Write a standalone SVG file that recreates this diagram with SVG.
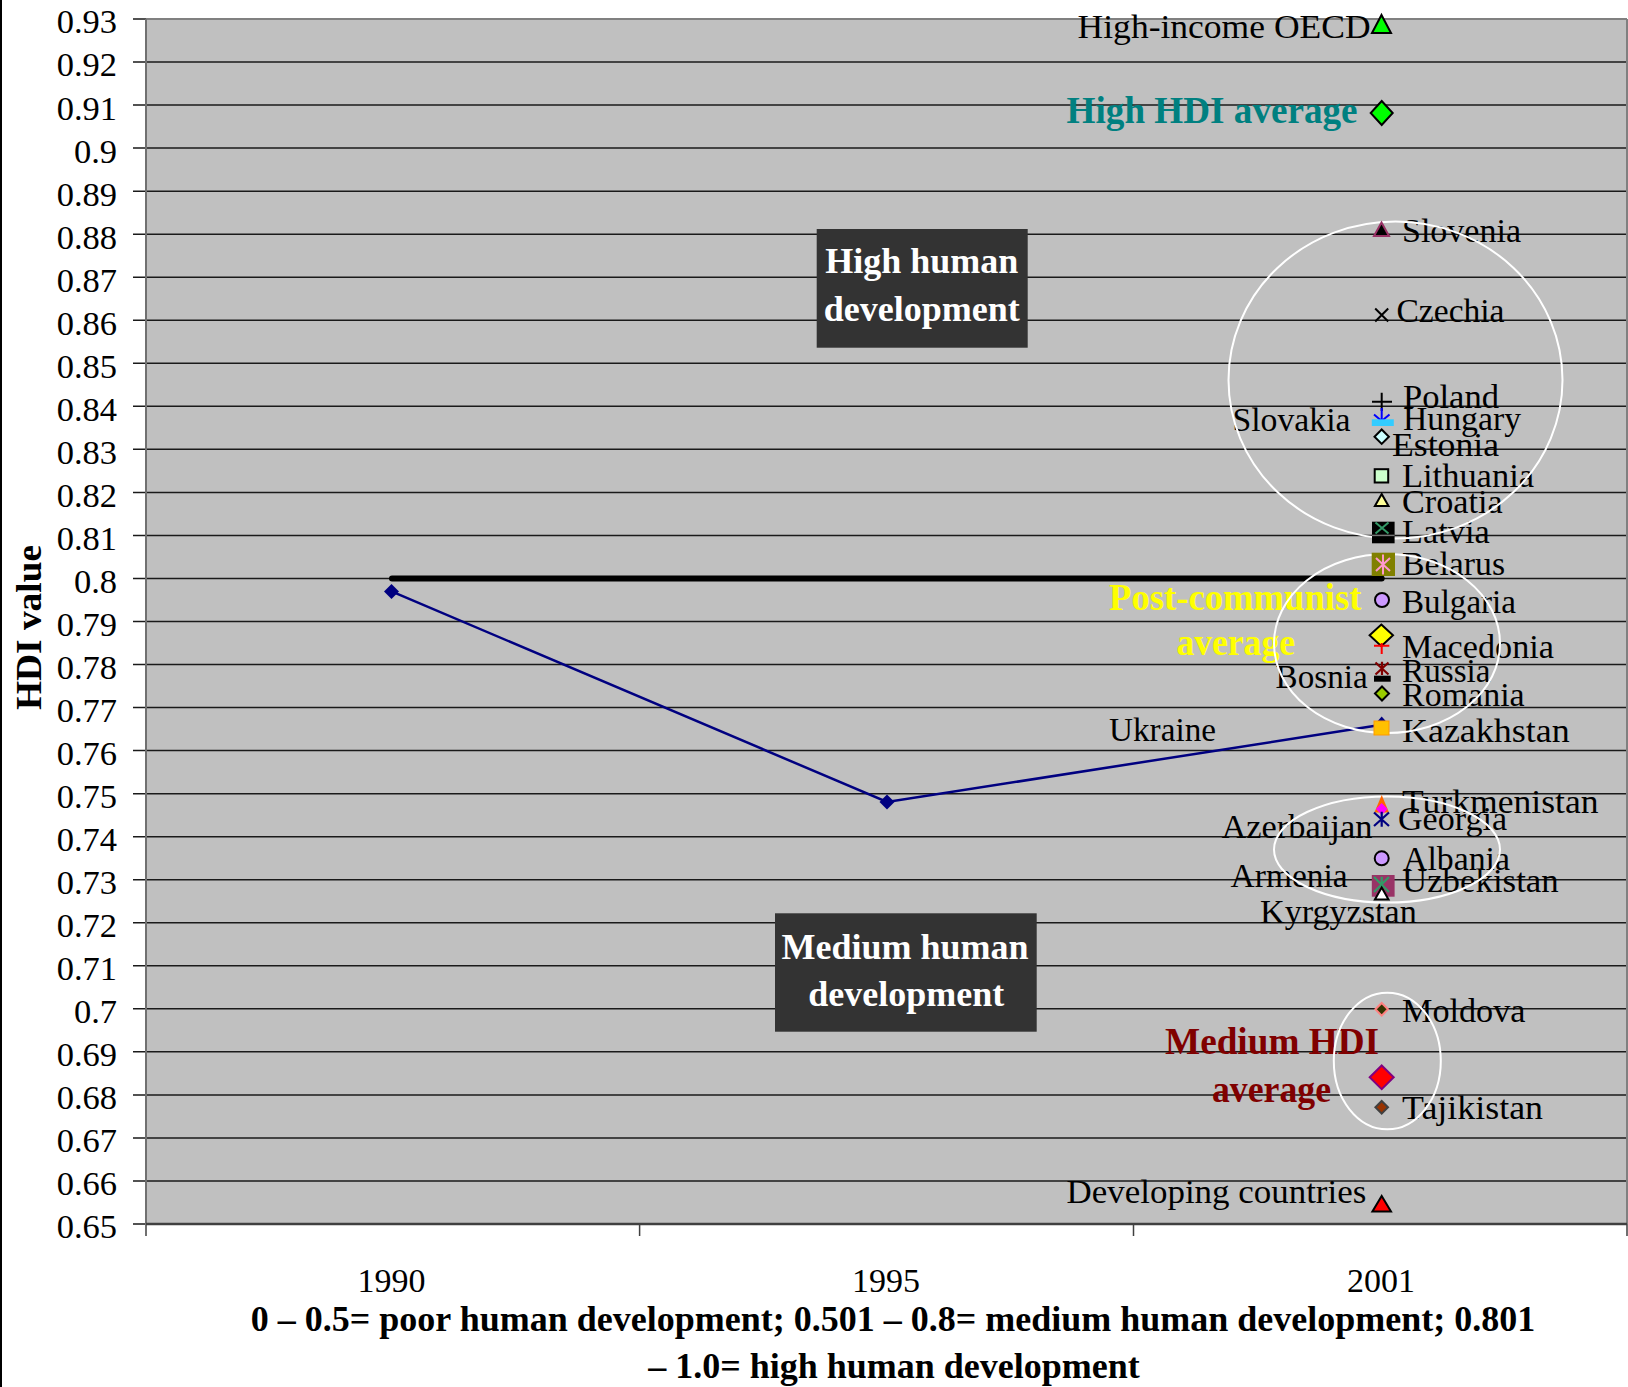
<svg xmlns="http://www.w3.org/2000/svg" width="1628" height="1387" viewBox="0 0 1628 1387">
<style>
.lbl{font-family:"Liberation Serif","Times New Roman",serif;font-size:34px;fill:#000}
.ax{font-family:"Liberation Serif","Times New Roman",serif;font-size:34.5px;fill:#000;text-anchor:end}
.xl{font-family:"Liberation Serif","Times New Roman",serif;font-size:34px;fill:#000;text-anchor:middle}
.b{font-family:"Liberation Serif","Times New Roman",serif;font-weight:bold}
.bx{font-family:"Liberation Serif","Times New Roman",serif;font-weight:bold;font-size:36px;fill:#fff;text-anchor:middle}
.ell{fill:none;stroke:#fff;stroke-width:2}
.mk{stroke:#000;stroke-width:2}
.grid{stroke:#1a1a1a;stroke-width:1.5;fill:none}
.end{text-anchor:end}
.mid{text-anchor:middle}
</style>
<rect x="0" y="0" width="1628" height="1387" fill="#fff"/>
<line x1="1" y1="0" x2="1" y2="1387" stroke="#000" stroke-width="2"/>
<g id="plot">
<rect x="146" y="19" width="1481" height="1205" fill="#c0c0c0"/>
<path class="grid" d="M133 19H146M133 62.04H1627M133 105.07H1627M133 148.11H1627M133 191.14H1627M133 234.18H1627M133 277.21H1627M133 320.25H1627M133 363.29H1627M133 406.32H1627M133 449.36H1627M133 492.39H1627M133 535.43H1627M133 578.46H1627M133 621.5H1627M133 664.54H1627M133 707.57H1627M133 750.61H1627M133 793.64H1627M133 836.68H1627M133 879.71H1627M133 922.75H1627M133 965.79H1627M133 1008.82H1627M133 1051.86H1627M133 1094.89H1627M133 1137.93H1627M133 1180.96H1627M133 1224H146"/>
<line x1="146" y1="19" x2="1627" y2="19" stroke="#808080" stroke-width="2"/>
<line x1="1627" y1="19" x2="1627" y2="1224" stroke="#808080" stroke-width="2"/>
<line x1="146" y1="19" x2="146" y2="1236" stroke="#707070" stroke-width="2"/>
<line x1="146" y1="1224" x2="1627" y2="1224" stroke="#404040" stroke-width="2.5"/>
<path d="M639.6 1224V1236M1133.5 1224V1236M1627 1224V1236" stroke="#404040" stroke-width="1.5"/>
</g>
<g id="y-axis">
<text class="ax" x="117" y="33.4">0.93</text>
<text class="ax" x="117" y="76.4">0.92</text>
<text class="ax" x="117" y="119.5">0.91</text>
<text class="ax" x="117" y="162.5">0.9</text>
<text class="ax" x="117" y="205.5">0.89</text>
<text class="ax" x="117" y="248.6">0.88</text>
<text class="ax" x="117" y="291.6">0.87</text>
<text class="ax" x="117" y="334.7">0.86</text>
<text class="ax" x="117" y="377.7">0.85</text>
<text class="ax" x="117" y="420.7">0.84</text>
<text class="ax" x="117" y="463.8">0.83</text>
<text class="ax" x="117" y="506.8">0.82</text>
<text class="ax" x="117" y="549.8">0.81</text>
<text class="ax" x="117" y="592.9">0.8</text>
<text class="ax" x="117" y="635.9">0.79</text>
<text class="ax" x="117" y="678.9">0.78</text>
<text class="ax" x="117" y="722">0.77</text>
<text class="ax" x="117" y="765">0.76</text>
<text class="ax" x="117" y="808">0.75</text>
<text class="ax" x="117" y="851.1">0.74</text>
<text class="ax" x="117" y="894.1">0.73</text>
<text class="ax" x="117" y="937.2">0.72</text>
<text class="ax" x="117" y="980.2">0.71</text>
<text class="ax" x="117" y="1023.2">0.7</text>
<text class="ax" x="117" y="1066.3">0.69</text>
<text class="ax" x="117" y="1109.3">0.68</text>
<text class="ax" x="117" y="1152.3">0.67</text>
<text class="ax" x="117" y="1195.4">0.66</text>
<text class="ax" x="117" y="1238.4">0.65</text>
<text class="b" x="0" y="0" font-size="36" text-anchor="middle" textLength="165" lengthAdjust="spacingAndGlyphs" transform="translate(41,627.5) rotate(-90)">HDI value</text>
</g>
<g id="x-axis">
<text class="xl" x="391.5" y="1292">1990</text>
<text class="xl" x="886" y="1292">1995</text>
<text class="xl" x="1381" y="1292">2001</text>
<text class="b" x="893" y="1331" font-size="36" text-anchor="middle">0 – 0.5= poor human development; 0.501 – 0.8= medium human development; 0.801</text>
<text class="b" x="894" y="1378" font-size="36" text-anchor="middle">– 1.0= high human development</text>
</g>
<g id="box-high">
<rect x="816.7" y="229" width="211" height="118.7" fill="#333"/>
<text class="bx" x="921.7" y="273.3">High human</text>
<text class="bx" x="921.7" y="320.7">development</text>
</g>
<g id="box-medium">
<rect x="775" y="913.3" width="261.7" height="118.4" fill="#333"/>
<text class="bx" x="905" y="959">Medium human</text>
<text class="bx" x="906.2" y="1006">development</text>
</g>
<g id="connectors">
<line id="post-communist-line" x1="392" y1="578.4" x2="1381.7" y2="578.4" stroke="#000" stroke-width="6" stroke-linecap="round"/>
<polyline id="ukraine-line" points="391.5,591.4 887,802 1381.7,724.8" fill="none" stroke="#000080" stroke-width="2.5"/>
</g>
<g id="labels">
<text class="lbl" x="1077.6" y="38.3" textLength="293" lengthAdjust="spacingAndGlyphs">High-income OECD</text>
<text class="b" x="1066.6" y="123" font-size="37" fill="#008080" textLength="291" lengthAdjust="spacingAndGlyphs">High HDI average</text>
<text class="lbl" x="1402" y="241.7" textLength="119" lengthAdjust="spacingAndGlyphs">Slovenia</text>
<text class="lbl" x="1396.5" y="321.7" textLength="108" lengthAdjust="spacingAndGlyphs">Czechia</text>
<text class="lbl" x="1403" y="408.3" textLength="96" lengthAdjust="spacingAndGlyphs">Poland</text>
<text class="lbl" x="1403" y="430" textLength="118" lengthAdjust="spacingAndGlyphs">Hungary</text>
<text class="lbl" x="1232.5" y="431" textLength="118" lengthAdjust="spacingAndGlyphs">Slovakia</text>
<text class="lbl" x="1392" y="456" textLength="107" lengthAdjust="spacingAndGlyphs">Estonia</text>
<text class="lbl" x="1402" y="487.3" textLength="132" lengthAdjust="spacingAndGlyphs">Lithuania</text>
<text class="lbl" x="1402" y="513.3" textLength="100.6" lengthAdjust="spacingAndGlyphs">Croatia</text>
<text class="lbl" x="1402" y="543.3" textLength="87.7" lengthAdjust="spacingAndGlyphs">Latvia</text>
<text class="lbl" x="1402" y="575" textLength="103" lengthAdjust="spacingAndGlyphs">Belarus</text>
<text class="lbl" x="1402" y="613.3" textLength="114" lengthAdjust="spacingAndGlyphs">Bulgaria</text>
<text class="b" x="1109" y="610" font-size="37" fill="#ffff00" textLength="252.5" lengthAdjust="spacingAndGlyphs">Post-communist</text>
<text class="b" x="1176.4" y="655" font-size="37" fill="#ffff00" textLength="118.6" lengthAdjust="spacingAndGlyphs">average</text>
<text class="lbl" x="1402" y="658.3" textLength="152" lengthAdjust="spacingAndGlyphs">Macedonia</text>
<text class="lbl" x="1402" y="681.7" textLength="88.5" lengthAdjust="spacingAndGlyphs">Russia</text>
<text class="lbl" x="1275.6" y="688.3" textLength="92" lengthAdjust="spacingAndGlyphs">Bosnia</text>
<text class="lbl" x="1402" y="706" textLength="122.7" lengthAdjust="spacingAndGlyphs">Romania</text>
<text class="lbl" x="1109" y="741" textLength="107" lengthAdjust="spacingAndGlyphs">Ukraine</text>
<text class="lbl" x="1402" y="741.7" textLength="167.7" lengthAdjust="spacingAndGlyphs">Kazakhstan</text>
<text class="lbl" x="1402" y="813.3" textLength="196.5" lengthAdjust="spacingAndGlyphs">Turkmenistan</text>
<text class="lbl" x="1398" y="830" textLength="109" lengthAdjust="spacingAndGlyphs">Georgia</text>
<text class="lbl" x="1221.4" y="838.3" textLength="151" lengthAdjust="spacingAndGlyphs">Azerbaijan</text>
<text class="lbl" x="1403" y="870" textLength="107" lengthAdjust="spacingAndGlyphs">Albania</text>
<text class="lbl" x="1402" y="891.7" textLength="156.7" lengthAdjust="spacingAndGlyphs">Uzbekistan</text>
<text class="lbl" x="1230.6" y="886.7" textLength="117" lengthAdjust="spacingAndGlyphs">Armenia</text>
<text class="lbl" x="1260" y="923.3" textLength="156.7" lengthAdjust="spacingAndGlyphs">Kyrgyzstan</text>
<text class="lbl" x="1402" y="1021.7" textLength="123.5" lengthAdjust="spacingAndGlyphs">Moldova</text>
<text class="b" x="1165" y="1054.3" font-size="37" fill="#800000" textLength="214" lengthAdjust="spacingAndGlyphs">Medium HDI</text>
<text class="b" x="1212" y="1101.7" font-size="37" fill="#800000" textLength="119" lengthAdjust="spacingAndGlyphs">average</text>
<text class="lbl" x="1402" y="1119" textLength="141" lengthAdjust="spacingAndGlyphs">Tajikistan</text>
<text class="lbl" x="1066.6" y="1203.3" textLength="299.7" lengthAdjust="spacingAndGlyphs">Developing countries</text>
</g>
<g id="groupings">
<ellipse class="ell" cx="1395.5" cy="380" rx="167" ry="158.5"/>
<ellipse class="ell" cx="1387" cy="643.5" rx="113" ry="89.5"/>
<ellipse class="ell" cx="1387" cy="849.5" rx="113" ry="53"/>
<ellipse class="ell" cx="1387.3" cy="1061" rx="53.5" ry="68.3"/>
</g>
<g id="markers">
<g id="m-1990"><polygon points="391.5,584 399,591.4 391.5,599 384,591.4" fill="#000080"/></g>
<g id="m-1995"><polygon points="887,794.5 894.5,802 887,809.5 879.5,802" fill="#000080"/></g>
<g id="m-oecd"><polygon class="mk" points="1381.5,15 1391,33 1372,33" fill="#00ff00"/></g>
<g id="m-highavg"><polygon class="mk" points="1381.7,101 1392.7,113 1381.7,125 1370.7,113" fill="#00ff00"/></g>
<g id="m-slovenia"><polygon points="1381.5,222.5 1389,236 1374,236" fill="#000" stroke="#993366" stroke-width="2"/></g>
<g id="m-czechia"><path d="M1375.2 308.5L1388.2 321.5M1388.2 308.5L1375.2 321.5" stroke="#000" stroke-width="2"/></g>
<g id="m-poland"><path d="M1381.7 392.7V411M1372 401.7H1392" stroke="#000" stroke-width="2"/></g>
<g id="m-hungary"><path d="M1381.7 408V421M1374 414.5L1381.7 421L1389.5 414.5" stroke="#0000ff" stroke-width="2" fill="none"/></g>
<g id="m-slovakia"><rect x="1371.8" y="419.3" width="22" height="6.7" fill="#33ccff"/></g>
<g id="m-estonia"><polygon class="mk" points="1381.7,429.5 1388.9,436.7 1381.7,443.9 1374.5,436.7" fill="#ccffff"/></g>
<g id="m-lithuania"><rect class="mk" x="1374.7" y="469.2" width="13.5" height="13.3" fill="#ccffcc"/></g>
<g id="m-croatia"><polygon class="mk" points="1381.7,494 1388.5,506 1374.9,506" fill="#ffff99"/></g>
<g id="m-latvia"><rect x="1372" y="521.7" width="22.6" height="21.6" fill="#000"/><line x1="1372" y1="535.4" x2="1394.6" y2="535.4" stroke="#777" stroke-width="1.5"/><path d="M1375.5 522.5L1388.5 533.5M1388.5 522.5L1375.5 533.5" stroke="#339966" stroke-width="2"/></g>
<g id="m-belarus"><rect x="1371.7" y="552.7" width="23.3" height="23.3" fill="#808000"/><path d="M1383 554.5V574.5M1376 558L1390 571M1390 558L1376 571" stroke="#ff99cc" stroke-width="2"/></g>
<g id="m-bulgaria"><circle class="mk" cx="1382" cy="600" r="7" fill="#cc99ff"/></g>
<g id="m-postavg"><polygon class="mk" points="1381.3,624.5 1393,635.3 1381.3,646.2 1369.6,635.3" fill="#ffff00"/></g>
<g id="m-macedonia"><path d="M1381.7 643V654M1374 645.7H1389.3" stroke="#ff0000" stroke-width="2"/></g>
<g id="m-russia"><path d="M1382 661.7V675M1375.5 662.5L1388.5 674.5M1388.5 662.5L1375.5 674.5" stroke="#800000" stroke-width="2.2"/></g>
<g id="m-bosnia"><rect x="1374" y="675.7" width="16.7" height="6" fill="#000"/></g>
<g id="m-romania"><polygon class="mk" points="1382,686.5 1389,693.5 1382,700.5 1375,693.5" fill="#99cc00"/></g>
<g id="m-ukraine"><polygon points="1381.7,716.5 1389,724.8 1381.7,733 1374.4,724.8" fill="#000080"/></g>
<g id="m-kazakhstan"><rect x="1374" y="721" width="15" height="14" fill="#ffc000" stroke="#ff9900" stroke-width="1"/></g>
<g id="m-turkmenistan"><polygon points="1381.7,795 1389,812.5 1374.4,812.5" fill="#ff6600"/></g>
<g id="m-georgia"><polygon points="1381.7,803 1387.5,809 1381.7,815 1375.9,809" fill="#ff00ff"/></g>
<g id="m-azerbaijan"><path d="M1381.7 811.7V826.7M1374 812.5L1389 826M1389 812.5L1374 826" stroke="#000080" stroke-width="2.2"/></g>
<g id="m-albania"><circle class="mk" cx="1381.7" cy="858.3" r="7" fill="#cc99ff"/></g>
<g id="m-uzbekistan"><rect x="1371.8" y="875" width="22.8" height="21.7" fill="#993366"/><path d="M1381.7 876.7V893.3M1374 877L1389 892M1389 877L1374 892" stroke="#339966" stroke-width="2.2"/></g>
<g id="m-kyrgyzstan"><polygon class="mk" points="1381.7,887.5 1388.5,899.5 1374.9,899.5" fill="#ffffff"/></g>
<g id="m-moldova"><polygon points="1381.7,1003 1388,1009.3 1381.7,1015.6 1375.4,1009.3" fill="#333300" stroke="#ff8080" stroke-width="2"/></g>
<g id="m-mediumavg"><polygon points="1381.7,1065.5 1393.7,1077.3 1381.7,1089.1 1369.7,1077.3" fill="#ff0000" stroke="#800080" stroke-width="2"/></g>
<g id="m-tajikistan"><polygon points="1381.7,1101 1388,1107.3 1381.7,1113.6 1375.4,1107.3" fill="#993300" stroke="#404040" stroke-width="2"/></g>
<g id="m-developing"><polygon class="mk" points="1381.7,1196 1391,1211.5 1372.4,1211.5" fill="#ff0000"/></g>
</g>
</svg>
